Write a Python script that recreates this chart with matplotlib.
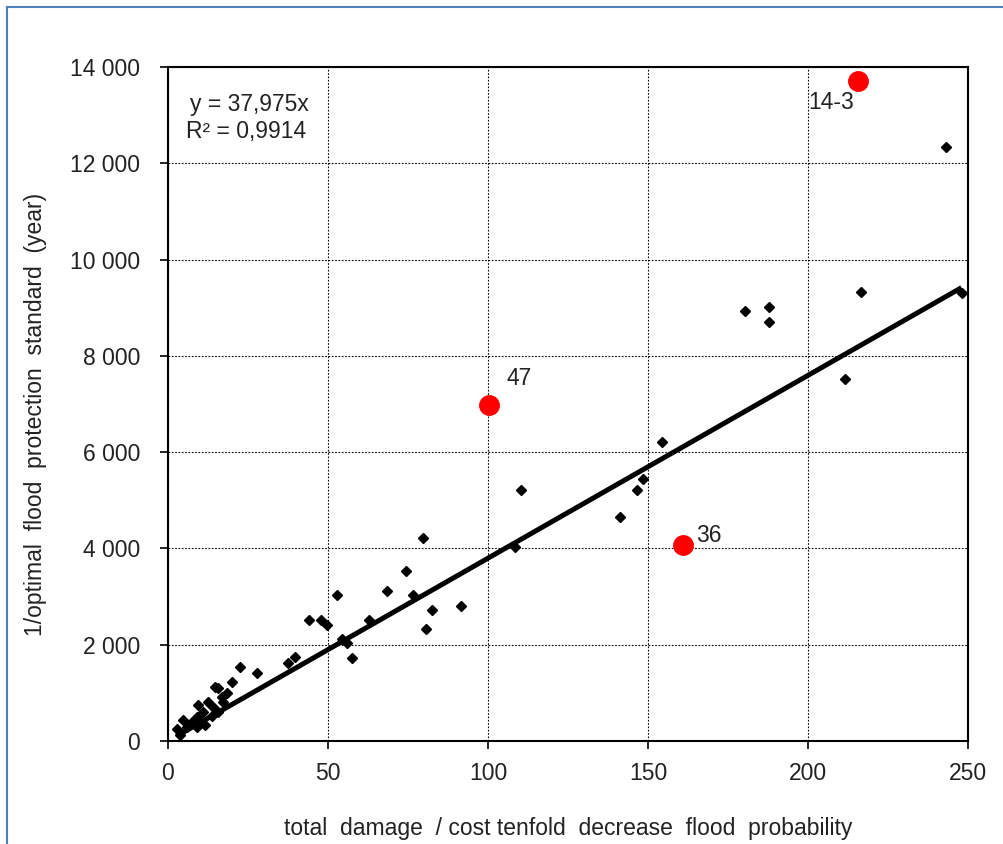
import matplotlib
matplotlib.use("Agg")
import matplotlib.pyplot as plt
from matplotlib.lines import Line2D
from matplotlib.ticker import FuncFormatter
import numpy as np

plt.rcParams['font.family'] = ['Liberation Sans', 'DejaVu Sans']

# dike rings: damage/cost ratio vs 1/optimal standard
ratio = [2.7, 3.75, 4.8, 5.8, 7.4, 9.0, 9.0, 9.5, 10.0, 11.0, 11.6, 12.6, 13.7,
         14.2, 14.7, 15.7, 15.7, 16.8, 17.3, 18.3, 19.9, 22.5, 27.9,
         37.6, 39.7, 44.0, 47.7, 49.8, 52.7, 54.3, 55.8, 57.4, 62.9, 68.3,
         74.4, 76.5, 79.6, 80.5, 82.6, 91.6, 108.4, 110.3, 141.3, 146.5,
         148.5, 154.3, 180.3, 187.8, 187.8, 211.6, 216.6, 243.1, 248.0]
standard = [242, 125, 436, 297, 401, 505, 297, 748, 401, 609, 332, 816, 519,
            713, 1128, 1094, 609, 920, 816, 1003, 1232, 1543, 1419,
            1627, 1738, 2513, 2513, 2410, 3026, 2112, 2043, 1718, 2513, 3116,
            3538, 3033, 4210, 2326, 2721, 2804, 4030, 5214, 4647, 5214,
            5436, 6217, 8932, 9015, 8704, 7520, 9327, 12339, 9310]

# highlighted outliers
out_x = [100.3, 160.9, 215.6]
out_y = [6980, 4071, 13710]
out_lbl = ['47', '36', '14-3']

slope = 37.975
r2 = 0.9914

fs = 16.5
tc = '#222222'

fig = plt.figure(figsize=(10.04, 8.44), dpi=100)
ax = fig.add_axes([0.1673, 0.122, 0.7968, 0.7986])

ax.grid(True, color='black', linestyle=(0, (1.5, 1.5)), linewidth=0.8)
ax.set_axisbelow(True)

ax.plot(ratio, standard, linestyle='none', marker='D', ms=4.7, color='black', zorder=3)

xs = np.array([min(ratio), max(ratio)])
ax.plot(xs, slope * xs, color='black', lw=3.6, solid_capstyle='butt', zorder=4)

ax.plot(out_x, out_y, linestyle='none', marker='o', ms=14, color='#ff0000', zorder=5)
offs = [((18, 26), 'left'), ((13, 10), 'left'), ((-4, -22), 'right')]
for x, y, t, (o, ha) in zip(out_x, out_y, out_lbl, offs):
    ax.annotate(t, (x, y), xytext=(o[0] * 0.72, o[1] * 0.72), textcoords='offset points',
                ha=ha, va='center', fontsize=fs, color=tc)

ax.text(0.0275, 0.944, 'y = 37,975x', transform=ax.transAxes, fontsize=fs,
        color=tc, va='center')
ax.text(0.022, 0.905, 'R² = 0,9914', transform=ax.transAxes, fontsize=fs,
        color=tc, va='center')

ax.set_xlim(0, 250)
ax.set_ylim(0, 14000)
ax.set_xticks(range(0, 251, 50))
ax.set_yticks(range(0, 14001, 2000))
ax.yaxis.set_major_formatter(FuncFormatter(lambda v, p: f"{int(v):,}".replace(",", " ")))
ax.tick_params(direction='out', length=6, width=1.2, labelsize=fs,
               labelcolor=tc)
ax.tick_params(axis='y', pad=14)
ax.tick_params(axis='x', pad=9)
for s in ax.spines.values():
    s.set_linewidth(1.5)

ax.set_xlabel('total  damage  / cost tenfold  decrease  flood  probability',
              fontsize=fs, color=tc, labelpad=23)
ax.set_ylabel('1/optimal  flood  protection  standard  (year)',
              fontsize=fs, color=tc, labelpad=16.5)
ax.yaxis.label.set_y(0.485)

# chart-area border (blue, top and left only)
fig.add_artist(Line2D([0.007, 1.0], [1 - 7 / 844, 1 - 7 / 844], color='#4f81bd', lw=1.5))
fig.add_artist(Line2D([0.007, 0.007], [0.0, 1 - 7 / 844], color='#4f81bd', lw=1.5))

fig.savefig('out.png', dpi=100)
